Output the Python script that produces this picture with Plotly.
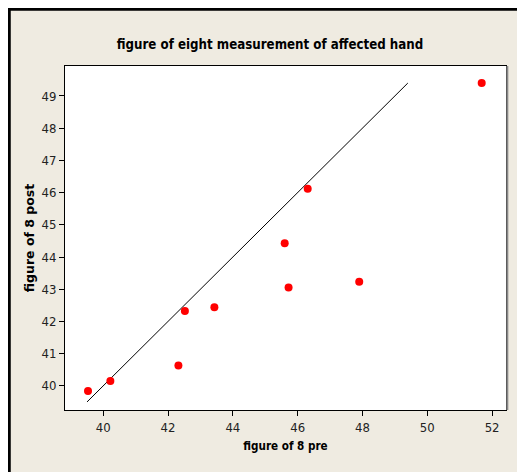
import plotly.graph_objects as go

pre = [39.53, 40.22, 42.32, 42.52, 43.43, 45.60, 45.72, 46.31, 47.90, 51.68]
post = [39.84, 40.15, 40.63, 42.32, 42.44, 44.43, 43.05, 46.12, 43.23, 49.40]
ref_line_x = [39.5, 49.4]
ref_line_y = [39.5, 49.4]
x_ticks = [40, 42, 44, 46, 48, 50, 52]
y_ticks = [40, 41, 42, 43, 44, 45, 46, 47, 48, 49]

# the page body adds an 8px margin, so the figure is drawn at (8, 8)
W, H = 517, 464
L, R, T, B = 57, 18.5, 58, 62
pw, ph = W - L - R, H - T - B

def px(x):
    return (x - L) / pw

def py(y):
    return (H - B - y) / ph

fig = go.Figure()
fig.add_trace(go.Scatter(x=ref_line_x, y=ref_line_y, mode="lines",
                         line=dict(color="black", width=1), showlegend=False))
fig.add_trace(go.Scatter(x=pre, y=post, mode="markers",
                         marker=dict(color="#FF0000", size=8, line=dict(width=0)),
                         showlegend=False))

narrow = "DejaVu Sans Condensed, Liberation Sans Narrow, Arial Narrow, sans-serif"

fig.update_layout(
    width=W, height=H,
    margin=dict(l=L, r=R, t=T, b=B),
    paper_bgcolor="#EFEBE1",
    plot_bgcolor="white",
    title=dict(text="<b>figure of eight measurement of affected hand</b>",
               x=262 / W, xanchor="center", y=1 - 36 / H, yanchor="middle",
               font=dict(family=narrow, size=13.2, color="black")),
    xaxis=dict(range=[38.82, 52.43], tickvals=x_ticks, ticks="outside", ticklen=5,
               tickcolor="black", showgrid=False, zeroline=False,
               showline=True, linecolor="black", linewidth=1, mirror=True,
               tickfont=dict(family=narrow, size=13, color="#222"),
               title=dict(text="<b>figure of 8 pre</b>", standoff=8,
                          font=dict(family=narrow, size=11.6, color="black"))),
    yaxis=dict(range=[39.25, 49.93], tickvals=y_ticks, ticks="outside", ticklen=5,
               tickcolor="black", showgrid=False, zeroline=False,
               showline=True, linecolor="black", linewidth=1, mirror=True,
               tickfont=dict(family=narrow, size=13, color="#222"),
               title=dict(text="<b>figure of 8 post</b>", standoff=4,
                          font=dict(family="DejaVu Sans, Verdana, sans-serif", size=12.5, color="black"))),
    shapes=[
        # outer frame (top and left)
        dict(type="line", xref="paper", yref="paper", x0=px(0), x1=px(W + 5), y0=py(1.2), y1=py(1.2),
             line=dict(color="black", width=3)),
        dict(type="line", xref="paper", yref="paper", x0=px(1.2), x1=px(1.2), y0=py(0), y1=py(H + 5),
             line=dict(color="black", width=3)),
        # right shadow of plot box
        dict(type="line", xref="paper", yref="paper", x0=1.003, x1=1.003, y0=0, y1=1,
             line=dict(color="#888888", width=2)),
    ],
)

fig.write_html("out.html")
